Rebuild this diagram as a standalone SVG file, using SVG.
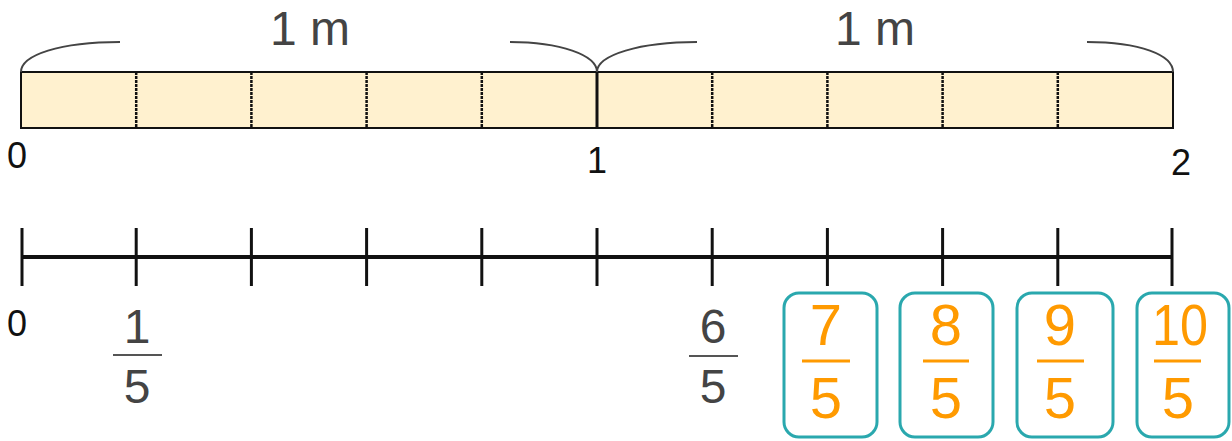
<svg xmlns="http://www.w3.org/2000/svg" width="1232" height="441" viewBox="0 0 1232 441">
<style>
.t{font-family:"Liberation Sans",Arial,sans-serif;text-anchor:middle}
.blk{fill:#111;font-size:36px}
.gry{fill:#444;font-size:48px}
.org{fill:#FF9A00;font-size:58px}
.dash{stroke:#111;stroke-width:2.5;stroke-dasharray:3 1}
.brace{fill:none;stroke:#444;stroke-width:2}
.tick{stroke:#111;stroke-width:3}
.gbar{stroke:#555;stroke-width:2}
.obar{stroke:#FF9A00;stroke-width:3}
.box{fill:#fff;stroke:#2AA8AE;stroke-width:3}
</style>
<g id="tape">
<rect x="21" y="72" width="1152" height="56" fill="#FFF1CF" stroke="#111" stroke-width="2"/>
<line class="dash" x1="136.2" y1="72" x2="136.2" y2="128"/>
<line class="dash" x1="251.4" y1="72" x2="251.4" y2="128"/>
<line class="dash" x1="366.6" y1="72" x2="366.6" y2="128"/>
<line class="dash" x1="481.8" y1="72" x2="481.8" y2="128"/>
<line x1="597" y1="72" x2="597" y2="128" stroke="#111" stroke-width="3"/>
<line class="dash" x1="712.2" y1="72" x2="712.2" y2="128"/>
<line class="dash" x1="827.4" y1="72" x2="827.4" y2="128"/>
<line class="dash" x1="942.6" y1="72" x2="942.6" y2="128"/>
<line class="dash" x1="1057.8" y1="72" x2="1057.8" y2="128"/>
</g>
<g id="braces">
<path class="brace" d="M21,72 C21,55 60,42 120,42"/>
<path class="brace" d="M510,42 C560,42 597,55 597,72"/>
<path class="brace" d="M597,72 C597,55 640,42 697,42"/>
<path class="brace" d="M1087,42 C1140,42 1173,55 1173,72"/>
<text class="t gry" x="310" y="45" font-size="44">1 m</text>
<text class="t gry" x="875" y="45" font-size="44">1 m</text>
</g>
<g id="tape-labels">
<text class="t blk" x="17" y="168">0</text>
<text class="t blk" x="597" y="173" font-size="38">1</text>
<text class="t blk" x="1181" y="175" font-size="38">2</text>
</g>
<g id="numberline">
<line x1="21" y1="257" x2="1173" y2="257" stroke="#111" stroke-width="4"/>
<line class="tick" x1="22" y1="228" x2="22" y2="286"/>
<line class="tick" x1="136.2" y1="228" x2="136.2" y2="286"/>
<line class="tick" x1="251.4" y1="228" x2="251.4" y2="286"/>
<line class="tick" x1="366.6" y1="228" x2="366.6" y2="286"/>
<line class="tick" x1="481.8" y1="228" x2="481.8" y2="286"/>
<line class="tick" x1="597" y1="228" x2="597" y2="286"/>
<line class="tick" x1="712.2" y1="228" x2="712.2" y2="286"/>
<line class="tick" x1="827.4" y1="228" x2="827.4" y2="286"/>
<line class="tick" x1="942.6" y1="228" x2="942.6" y2="286"/>
<line class="tick" x1="1057.8" y1="228" x2="1057.8" y2="286"/>
<line class="tick" x1="1172" y1="228" x2="1172" y2="286"/>
</g>
<g id="label-0"><text class="t blk" x="17" y="336" font-size="33">0</text></g>
<g id="frac-1-5">
<text class="t gry" x="137" y="343">1</text>
<line class="gbar" x1="113" y1="355" x2="162" y2="355"/>
<text class="t gry" x="137" y="403">5</text>
</g>
<g id="frac-6-5">
<text class="t gry" x="713" y="343">6</text>
<line class="gbar" x1="689" y1="356" x2="738" y2="356"/>
<text class="t gry" x="713" y="403">5</text>
</g>
<g id="frac-7-5">
<rect class="box" x="784" y="293" width="93" height="144" rx="15"/>
<text class="t org" x="826" y="345">7</text>
<line class="obar" x1="802" y1="361" x2="850" y2="361"/>
<text class="t org" x="826" y="418">5</text>
</g>
<g id="frac-8-5">
<rect class="box" x="900" y="293" width="93" height="144" rx="15"/>
<text class="t org" x="946" y="345">8</text>
<line class="obar" x1="923" y1="361" x2="969" y2="361"/>
<text class="t org" x="946" y="418">5</text>
</g>
<g id="frac-9-5">
<rect class="box" x="1017" y="293" width="96" height="144" rx="15"/>
<text class="t org" x="1060" y="345">9</text>
<line class="obar" x1="1037" y1="361" x2="1084" y2="361"/>
<text class="t org" x="1060" y="418">5</text>
</g>
<g id="frac-10-5">
<rect class="box" x="1137" y="293" width="92" height="144" rx="15"/>
<text class="t org" x="1180" y="345" textLength="56" lengthAdjust="spacingAndGlyphs">10</text>
<line class="obar" x1="1154" y1="361" x2="1201" y2="361"/>
<text class="t org" x="1178" y="418">5</text>
</g>
</svg>
